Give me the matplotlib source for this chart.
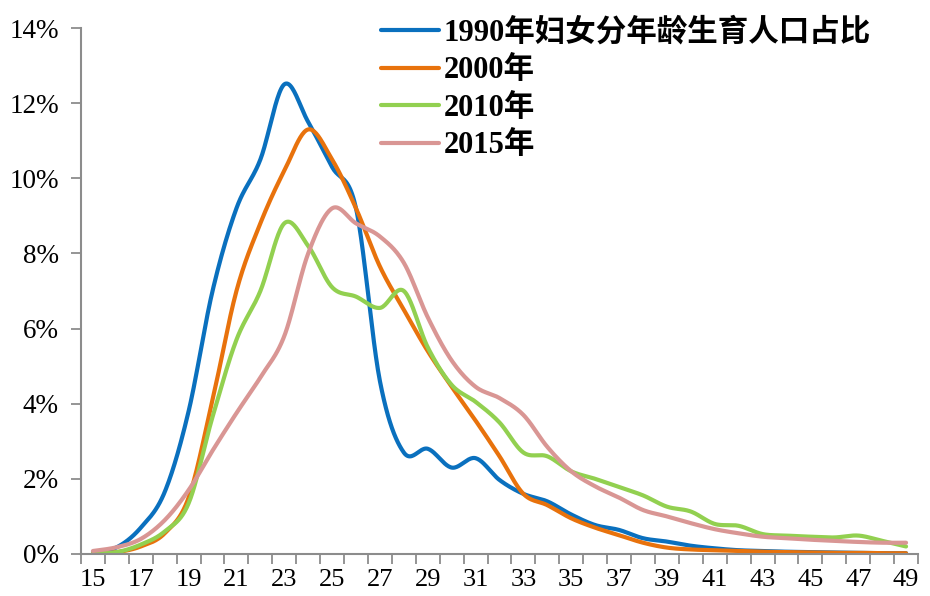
import numpy as np
import matplotlib
matplotlib.use("Agg")
import matplotlib.pyplot as plt
from matplotlib.ticker import FixedLocator, FuncFormatter

# Age categories (15 to 49)
ages = list(range(15, 50))

# Share of births by mother's age, percent
y1990 = [0.05, 0.18, 0.7, 1.65, 3.8, 7.0, 9.2, 10.5, 12.5, 11.5, 10.3, 9.2,
         4.6, 2.7, 2.8, 2.3, 2.55, 1.97, 1.6, 1.4, 1.05, 0.77, 0.64, 0.42,
         0.33, 0.22, 0.15, 0.1, 0.08, 0.06, 0.05, 0.04, 0.03, 0.02, 0.02]
y2000 = [0.02, 0.05, 0.2, 0.55, 1.5, 4.1, 7.0, 8.8, 10.2, 11.3, 10.5, 9.2,
         7.65, 6.5, 5.4, 4.45, 3.55, 2.6, 1.6, 1.3, 0.95, 0.7, 0.5, 0.3,
         0.17, 0.12, 0.1, 0.08, 0.06, 0.05, 0.04, 0.03, 0.03, 0.02, 0.02]
y2010 = [0.02, 0.05, 0.25, 0.6, 1.35, 3.65, 5.7, 7.0, 8.8, 8.2, 7.1, 6.85,
         6.55, 7.0, 5.5, 4.5, 4.05, 3.5, 2.7, 2.6, 2.2, 2.0, 1.78, 1.56,
         1.26, 1.13, 0.8, 0.75, 0.53, 0.49, 0.46, 0.44, 0.49, 0.35, 0.2]
y2015 = [0.08, 0.18, 0.4, 0.9, 1.7, 2.75, 3.75, 4.7, 5.8, 8.0, 9.2, 8.8,
         8.45, 7.75, 6.3, 5.15, 4.45, 4.15, 3.7, 2.85, 2.2, 1.8, 1.5, 1.17,
         1.0, 0.82, 0.66, 0.55, 0.46, 0.42, 0.38, 0.35, 0.32, 0.3, 0.3]

labels = ["1990年妇女分年龄生育人口占比", "2000年", "2010年", "2015年"]
colors = ["#0A70BE", "#E8720C", "#92D050", "#D99694"]
series = [y1990, y2000, y2010, y2015]


def smooth(xs, ys, n=24):
    """Catmull-Rom style Bezier smoothing (like spreadsheet smoothed lines)."""
    xs = np.asarray(xs, float)
    ys = np.asarray(ys, float)
    px = np.concatenate([[xs[0]], xs, [xs[-1]]])
    py = np.concatenate([[ys[0]], ys, [ys[-1]]])
    ox, oy = [], []
    t = np.linspace(0, 1, n, endpoint=False)
    for i in range(1, len(px) - 2):
        p0x, p0y = px[i], py[i]
        p3x, p3y = px[i + 1], py[i + 1]
        c1x = p0x + (px[i + 1] - px[i - 1]) / 6
        c1y = p0y + (py[i + 1] - py[i - 1]) / 6
        c2x = p3x - (px[i + 2] - px[i]) / 6
        c2y = p3y - (py[i + 2] - py[i]) / 6
        b0 = (1 - t) ** 3
        b1 = 3 * (1 - t) ** 2 * t
        b2 = 3 * (1 - t) * t ** 2
        b3 = t ** 3
        ox.append(b0 * p0x + b1 * c1x + b2 * c2x + b3 * p3x)
        oy.append(b0 * p0y + b1 * c1y + b2 * c2y + b3 * p3y)
    ox.append([xs[-1]])
    oy.append([ys[-1]])
    return np.concatenate(ox), np.concatenate(oy)


serif = ["Liberation Serif", "Noto Sans CJK SC"]
plt.rcParams["font.family"] = serif

fig = plt.figure(figsize=(9.3, 5.96), dpi=100)
ax = fig.add_axes([0.0871, 0.0705, 0.9, 0.8825])

idx = np.arange(len(ages))
for ys, c, lab in zip(series, colors, labels):
    sx, sy = smooth(idx, ys)
    ax.plot(sx, sy, color=c, lw=3, label=lab, solid_capstyle="round")

ax.set_xlim(-0.5, len(ages) - 0.5)
ax.set_ylim(0, 14)

# x axis: category boundaries get tick marks, every other category is labelled
ax.xaxis.set_major_locator(FixedLocator(idx[::2]))
ax.set_xticklabels([str(a) for a in ages[::2]])
ax.xaxis.set_minor_locator(FixedLocator(np.arange(-0.5, len(ages), 1.0)))
ax.tick_params(axis="x", which="major", length=0, pad=10.5, labelsize=19)
ax.tick_params(axis="x", which="minor", length=7, width=1.3, color="#8C8C8C",
               direction="out")

ax.set_yticks(range(0, 15, 2))
ax.yaxis.set_major_formatter(FuncFormatter(lambda v, p: f"{v:.0f}%"))
ax.tick_params(axis="y", length=7, width=1.3, color="#8C8C8C", direction="out",
               labelsize=19.5, pad=9)

for s in ("top", "right"):
    ax.spines[s].set_visible(False)
for s in ("left", "bottom"):
    ax.spines[s].set_color("#8C8C8C")
    ax.spines[s].set_linewidth(1.5)

leg = ax.legend(loc="upper left", bbox_to_anchor=(378 / 930, 0.975),
                bbox_transform=fig.transFigure, frameon=False,
                prop={"family": serif, "weight": "bold", "size": 22},
                handlelength=1.9, handletextpad=0.15, labelspacing=0.28,
                borderaxespad=0, borderpad=0.1)

fig.savefig("out.png", dpi=100)
